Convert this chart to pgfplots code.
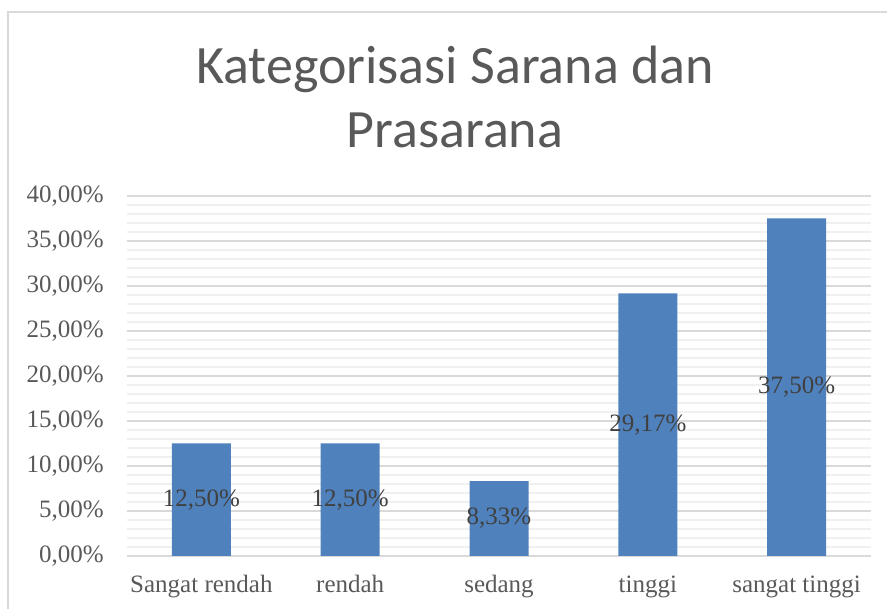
\documentclass[border=0pt]{standalone}
\usepackage{pgfplots}
\pgfplotsset{compat=1.18}
\usepackage{pgfplotstable}
\usepackage{fontspec}
\setmainfont{Liberation Serif}
\newfontfamily\titlefont{Carlito}
\definecolor{barblue}{HTML}{4F81BD}
\definecolor{txt}{HTML}{595959}
\definecolor{lbl}{HTML}{404040}
\definecolor{majg}{HTML}{D9D9D9}
\definecolor{ming}{HTML}{F0F0F0}
\pgfplotstableread{
x v
0 12.50
1 12.50
2 8.33
3 29.17
4 37.50
}\datatable
\begin{document}
\begin{tikzpicture}[x=1pt,y=1pt]
\useasboundingbox (0,0) rectangle (887,609);
\begin{scope}
\clip (0,0) rectangle (887,609);
\draw[majg, line width=1.5pt] (8,-10) rectangle (900,597);
\end{scope}
\node[font=\titlefont\fontsize{54}{62}\selectfont, text=txt, anchor=base, inner sep=0pt] at (455,525) {Kategorisasi Sarana dan};
\node[font=\titlefont\fontsize{54}{62}\selectfont, text=txt, anchor=base, inner sep=0pt] at (455,461) {Prasarana};
\begin{axis}[
  at={(127pt,53pt)}, anchor=south west,
  scale only axis, width=744pt, height=360pt,
  xmin=-0.5, xmax=4.5, ymin=0, ymax=40,
  clip=false,
  axis line style={draw=none},
  tick style={draw=none},
  xtick={0,1,2,3,4},
  xticklabels={Sangat rendah, rendah, sedang, tinggi, sangat tinggi},
  ytick={0,5,...,40},
  minor y tick num=4,
  ymajorgrids, yminorgrids,
  major grid style={majg, line width=1.6pt},
  minor grid style={ming, line width=1.6pt},
  /pgf/number format/assume math mode=true,
  yticklabel={\pgfmathprintnumber[fixed,fixed zerofill,precision=2,use comma]{\tick}\%},
  yticklabel style={font=\fontsize{25}{30}\selectfont, text=txt, inner sep=0pt, anchor=east, xshift=-23pt},
  xticklabel style={font=\fontsize{25}{30}\selectfont, text=txt, inner sep=0pt, anchor=base, yshift=-37pt},
]
\addplot[ybar, bar width=59pt, bar shift=0pt, fill=barblue, draw=none] table[x=x, y=v] {\datatable};
\addplot[draw=none, no marks,
  nodes near coords={\pgfmathprintnumber[fixed,fixed zerofill,precision=2,use comma]{\pgfplotspointmeta}\%},
  point meta=explicit,
  every node near coord/.append style={anchor=center, inner sep=0pt, font=\fontsize{25}{30}\selectfont, text=lbl}]
  table[x=x, y expr=\thisrow{v}/2, meta=v] {\datatable};
\end{axis}
\end{tikzpicture}
\end{document}
